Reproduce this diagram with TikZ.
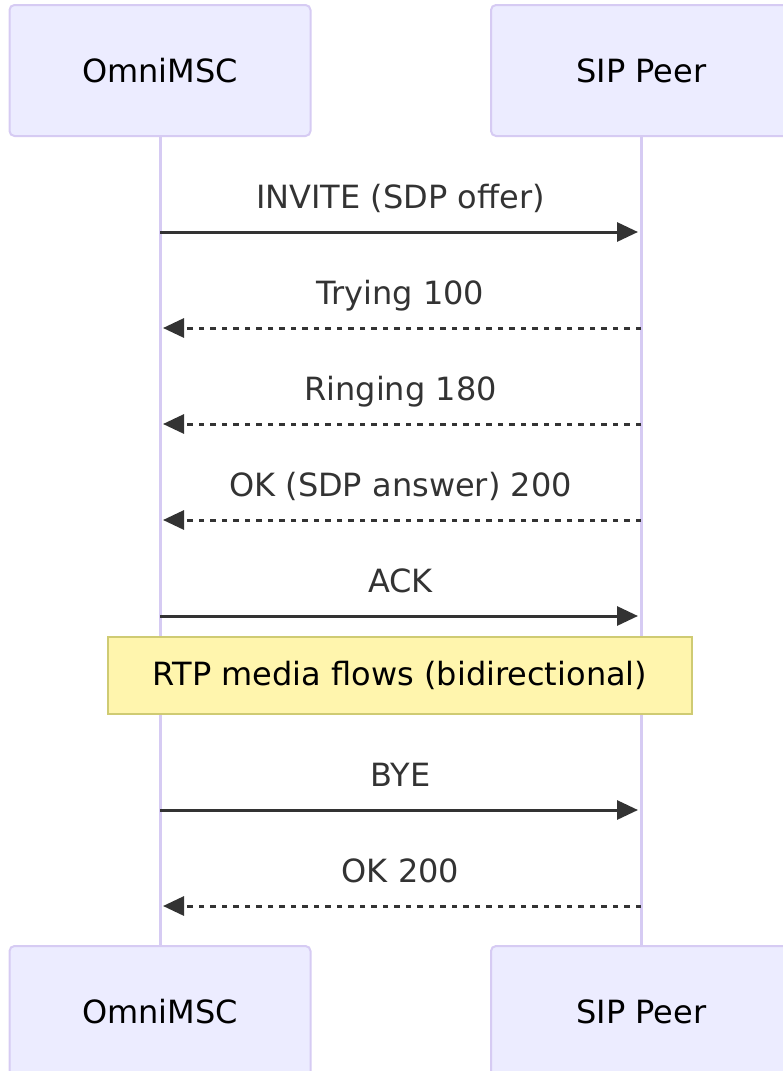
\documentclass[tikz,border=0pt]{standalone}
\usepackage{fontspec}
\setmainfont{DejaVu Sans}
\usetikzlibrary{arrows.meta}
\definecolor{actorfill}{HTML}{ECECFF}
\definecolor{actorline}{HTML}{D6CBF3}
\definecolor{notefill}{HTML}{FFF5AD}
\definecolor{noteline}{HTML}{CFCB73}
\definecolor{msgcol}{HTML}{333333}
\begin{document}
\begin{tikzpicture}[x=1pt,y=-1pt,
  actorbox/.style={draw=actorline, fill=actorfill, line width=2pt, rounded corners=5pt,
    minimum width=301pt, minimum height=131pt, inner sep=0pt,
    font=\fontsize{32}{38}\selectfont, text=black},
  lifeline/.style={draw=actorline, line width=3pt},
  msglabel/.style={font=\fontsize{32}{38}\selectfont, text=msgcol, anchor=base, inner sep=0pt},
  msgsolid/.style={draw=msgcol, line width=3pt, shorten >=3pt,
    -{Triangle[length=21pt,width=19pt]}},
  msgdash/.style={msgsolid, dash pattern=on 5.5pt off 6pt},
  notebox/.style={draw=noteline, fill=notefill, line width=2pt, minimum width=584pt,
    minimum height=77pt, inner sep=0pt, font=\fontsize{32}{38}\selectfont, text=black}]
\useasboundingbox (0,0) rectangle (783,1071);

% actors
\node[actorbox] (topA) at (160,70.5) {OmniMSC};
\node[actorbox] (topB) at (641.5,70.5) {SIP Peer};
\node[actorbox] (botA) at (160,1011.5) {OmniMSC};
\node[actorbox] (botB) at (641.5,1011.5) {SIP Peer};

% lifelines
\draw[lifeline] (topA.south) -- (botA.north);
\draw[lifeline] (topB.south) -- (botB.north);

% message anchor points
\foreach \i/\y in {1/232,2/328,3/424,4/520,5/616,6/810,7/906}{
  \coordinate (L\i) at (160,\y);
  \coordinate (R\i) at (641,\y);
}

% messages
\node[msglabel] (m1) at (400.5,208) {INVITE (SDP offer)};
\draw[msgsolid] (L1) -- (R1);
\node[msglabel] (m2) at (400.5,304) {Trying 100};
\draw[msgdash] (R2) -- (L2);
\node[msglabel] (m3) at (400.5,400) {Ringing 180};
\draw[msgdash] (R3) -- (L3);
\node[msglabel] (m4) at (400.5,496) {OK (SDP answer) 200};
\draw[msgdash] (R4) -- (L4);
\node[msglabel] (m5) at (400.5,592) {ACK};
\draw[msgsolid] (L5) -- (R5);

% note
\node[notebox] (note) at (400,675.5) {RTP media flows (bidirectional)};

\node[msglabel] (m6) at (400.5,786) {BYE};
\draw[msgsolid] (L6) -- (R6);
\node[msglabel] (m7) at (400.5,882) {OK 200};
\draw[msgdash] (R7) -- (L7);
\end{tikzpicture}
\end{document}
